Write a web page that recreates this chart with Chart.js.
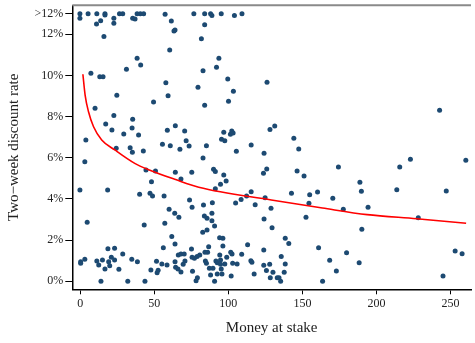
<!DOCTYPE html>
<html lang="en">
<head>
  <meta charset="UTF-8">
  <title>Two-week discount rate vs money at stake</title>
  <script src="https://cdn.jsdelivr.net/npm/chart.js"></script>
  <style>
    html, body { margin: 0; padding: 0; background: #fff; }
    #wrap { width: 475px; height: 343px; }
  </style>
</head>
<body>
  <div id="wrap"><canvas id="chart" width="475" height="343"></canvas></div>
  <script>
    // observations (money at stake, two-week discount rate in %; ">12%" plotted at 13)
    const moneyAtStake = [
      -0.2, -0.2, 5.3, 11.2, 11.0, 13.8, 16.7, 16.7, 16.0, 22.7, 22.7, 26.5, 28.7, 35.4, 37.0, 38.4, 40.6, 42.8, 57.3, 61.5,
      64.0, 63.3, 76.7, 84.0, 88.0, 88.9, 95.2, 104.1, 109.2, 84.0, 81.8, 38.4, 40.8, 31.2, 7.2, 13.2, 15.4, 24.7, 49.5, 10.0,
      22.7, 35.4, 60.4, 57.8, 79.5, 59.3, 93.6, 82.9, 92.0, 99.6, 126.1, 103.4, 100.1, 84.0, 242.6, 17.2, 21.4, 35.0, 29.4, 39.4,
      3.8, 24.3, 33.7, 35.2, 42.6, 55.5, 58.8, 64.2, 70.5, 71.5, 67.3, 60.8, 73.5, 3.1, -0.2, 18.5, 44.4, 50.8, 48.1, 64.2,
      68.0, 75.3, 40.1, 47.1, 48.8, 56.6, 73.8, 75.5, 60.0, 85.2, 96.9, 102.3, 101.4, 103.2, 95.4, 97.6, 115.4, 105.4, 124.1, 128.1,
      131.3, 144.2, 147.5, 82.9, 90.0, 91.2, 96.9, 98.5, 94.7, 91.2, 125.9, 123.7, 146.4, 151.1, 115.4, 112.3, 108.6, 124.8, 142.6, 154.9,
      160.2, 104.9, 118.1, 128.8, 154.4, 89.2, 83.2, 174.3, 215.7, 222.9, 260.3, 188.8, 189.8, 213.7, 247.1, 170.5, 194.3, 177.6, 4.7, 43.2,
      63.8, 66.6, 57.1, 61.8, 64.0, 56.1, 75.1, 75.5, 0.3, 0.3, 3.1, 11.2, 12.5, 15.0, 16.7, 18.7, 23.2, 19.2, 19.9, 21.0,
      23.2, 26.1, 28.7, 34.8, 38.6, 14.0, 32.1, 43.7, 47.7, 51.5, 52.6, 51.9, 55.1, 58.6, 64.0, 66.2, 68.0, 70.2, 64.4, 66.0,
      68.0, 69.5, 70.7, 77.1, 78.9, 75.8, 78.2, 79.1, 124.1, 129.5, 152.4, 83.8, 85.6, 88.9, 88.9, 90.7, 82.7, 85.6, 94.1, 96.3,
      96.3, 86.7, 86.0, 80.7, 84.2, 84.5, 85.2, 87.2, 89.6, 91.6, 92.5, 94.2, 94.7, 94.7, 95.2, 92.5, 88.0, 90.7, 95.7, 97.6,
      98.9, 101.6, 102.5, 102.9, 105.9, 101.9, 109.0, 113.0, 115.2, 115.9, 117.4, 123.9, 123.9, 127.9, 125.7, 128.3, 130.1, 133.0, 134.2, 135.3,
      135.7, 137.7, 138.4, 138.4, 140.8, 160.9, 163.6, 228.2, 190.1, 179.8, 168.4, 188.3, 172.9, 244.9, 253.1, 257.8
    ];
    const discountRate = [
      13.00, 12.78, 13.00, 13.00, 12.50, 12.66, 13.00, 12.94, 11.89, 12.78, 12.54, 13.00, 13.00, 12.78, 12.75, 13.00, 13.00, 13.00, 12.97, 12.65,
      12.21, 12.16, 13.00, 13.00, 13.00, 12.91, 13.00, 12.92, 13.00, 12.47, 11.79, 10.84, 10.51, 10.30, 10.11, 9.94, 9.94, 9.04, 8.71, 8.41,
      8.05, 7.87, 11.24, 9.65, 9.43, 9.02, 10.84, 10.23, 10.40, 9.83, 9.67, 9.23, 8.75, 8.55, 8.31, 7.64, 7.35, 7.45, 7.16, 7.11,
      6.87, 6.46, 6.49, 6.27, 6.33, 6.66, 7.34, 7.56, 7.30, 6.83, 6.41, 6.59, 6.57, 5.81, 4.44, 4.44, 5.41, 5.36, 4.83, 5.30,
      4.97, 5.30, 4.23, 4.28, 4.14, 4.14, 3.95, 3.60, 3.50, 6.59, 7.24, 7.30, 7.14, 7.21, 6.90, 6.83, 6.62, 6.32, 6.22, 7.37,
      7.55, 6.95, 6.43, 5.99, 5.44, 5.33, 5.17, 4.87, 4.71, 4.50, 5.46, 5.25, 5.36, 5.12, 4.35, 4.14, 3.97, 4.06, 4.28, 4.21,
      4.34, 3.80, 3.72, 3.55, 3.79, 3.82, 3.71, 5.55, 5.55, 5.93, 5.88, 4.81, 4.37, 4.45, 4.39, 4.03, 3.60, 3.50, 2.87, 2.74,
      3.30, 3.11, 2.82, 2.17, 1.81, 1.63, 1.57, 1.17, 0.95, 0.87, 1.07, 0.99, 0.79, 1.03, 0.60, 1.58, 1.60, 0.95, 0.76, 1.17,
      1.03, 0.58, 1.33, 1.07, 0.95, 0.00, 0.00, 0.00, 0.55, 0.97, 0.53, 0.42, 0.84, 0.79, 0.95, 1.28, 1.33, 1.33, 0.68, 0.60,
      0.45, 0.83, 0.99, 1.12, 1.20, 0.49, 0.03, 0.17, 3.03, 2.60, 3.11, 3.17, 3.06, 3.30, 2.94, 2.69, 2.38, 2.49, 2.12, 2.09,
      1.72, 1.68, 1.41, 1.28, 1.41, 0.99, 0.87, 0.63, 0.63, 0.99, 0.90, 1.28, 1.03, 0.83, 0.60, 0.35, 0.31, 0.00, 0.35, 0.84,
      1.17, 1.41, 1.33, 0.87, 0.84, 0.26, 1.31, 1.78, 1.00, 0.92, 0.35, 1.52, 0.78, 0.83, 0.52, 0.17, 0.44, 0.17, 0.17, 0.00,
      1.20, 0.44, 0.84, 2.09, 1.83, 1.63, 0.00, 3.09, 2.53, 1.39, 1.02, 0.90, 0.50, 0.26, 1.47, 1.34
    ];

    // fitted curve
    const fitMoney = [1.8, 3.3, 5.6, 9.0, 14.5, 23.4, 36.8, 46.6, 64.4, 80.0, 129.0, 163.5, 193.7, 227.1, 260.5];
    const fitRate = [10.06, 9.05, 8.24, 7.51, 6.87, 6.38, 5.73, 5.41, 4.94, 4.57, 3.95, 3.56, 3.24, 3.04, 2.82];

    const moneyTicks = [0, 50, 100, 150, 200, 250];
    const rateTicks = [0, 2, 4, 6, 8, 10, 12, 13];
    const rateTickLabels = ['0%', '2%', '4%', '6%', '8%', '10%', '12%', '>12%'];

    Chart.defaults.font.family = "'Liberation Serif', 'Times New Roman', serif";
    Chart.defaults.color = '#222';

    // thin grey frame line along the top of the panel
    const topLine = {
      id: 'topLine',
      afterDraw(chart) {
        const { ctx, chartArea: a } = chart;
        ctx.save();
        ctx.strokeStyle = '#8a8a8a';
        ctx.lineWidth = 2;
        ctx.beginPath();
        ctx.moveTo(a.left, a.top);
        ctx.lineTo(a.right, a.top);
        ctx.stroke();
        ctx.restore();
      }
    };

    const ctx = document.getElementById('chart').getContext('2d');
    new Chart(ctx, {
      type: 'scatter',
      data: {
        datasets: [
          {
            type: 'line',
            data: fitMoney.map((x, i) => ({ x: x, y: fitRate[i] })),
            borderColor: '#ff0000',
            borderWidth: 1.6,
            pointRadius: 0,
            fill: false,
            cubicInterpolationMode: 'monotone'
          },
          {
            data: moneyAtStake.map((x, i) => ({ x: x, y: discountRate[i] })),
            backgroundColor: '#1d4a72',
            borderWidth: 0,
            pointRadius: 2.5
          }
        ]
      },
      options: {
        responsive: false,
        animation: false,
        layout: { padding: { top: 5.3, left: 0, right: 0, bottom: 0 } },
        plugins: { legend: { display: false }, tooltip: { enabled: false } },
        scales: {
          x: {
            type: 'linear',
            min: -5.35,
            max: 263.8,
            afterBuildTicks: s => { s.ticks = moneyTicks.map(v => ({ value: v })); },
            afterFit: s => { s.height = 53.7; s.paddingLeft = 0; s.paddingRight = 0; },
            grid: { drawOnChartArea: false, color: '#000', tickLength: 5 },
            border: { color: '#000', width: 1.5 },
            ticks: { padding: 2, font: { size: 12 }, maxRotation: 0 },
            title: { display: true, text: 'Money at stake', font: { size: 15 }, padding: { top: 0, bottom: 6 } }
          },
          y: {
            type: 'linear',
            min: -0.39,
            max: 13.41,
            afterBuildTicks: s => { s.ticks = rateTicks.map(v => ({ value: v })); },
            afterFit: s => { s.width = 72.3; s.paddingTop = 0; s.paddingBottom = 0; },
            grid: { drawOnChartArea: false, color: '#000', tickLength: 7 },
            border: { color: '#000', width: 1.5 },
            ticks: {
              padding: 2,
              font: { size: 12 },
              callback: v => rateTickLabels[rateTicks.indexOf(v)]
            },
            title: { display: true, text: 'Two−week discount rate', font: { size: 15 }, padding: { top: 5, bottom: 0 } }
          }
        }
      },
      plugins: [topLine]
    });
  </script>
</body>
</html>
